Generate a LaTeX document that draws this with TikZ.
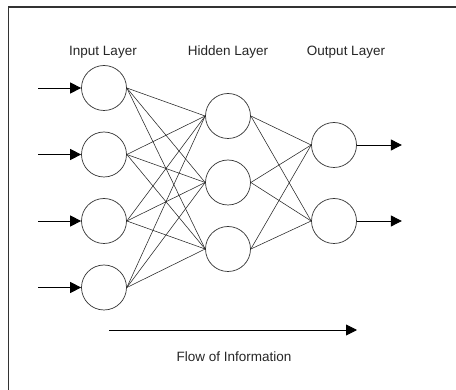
\documentclass[tikz,border=0pt]{standalone}
\usepackage{fontspec}
\setmainfont{Liberation Sans}
\usetikzlibrary{arrows.meta,calc}
\begin{document}
\begin{tikzpicture}[x=1pt,y=-1pt,
  neuron/.style={circle,draw=black!80,line width=0.7pt,minimum size=45pt,inner sep=0pt},
  link/.style={draw=black!85,line width=0.55pt},
  feed/.style={draw=black,line width=0.9pt,-{Triangle[length=11pt,width=11pt]}},
  lbl/.style={font=\fontsize{13.5pt}{15pt}\selectfont,text=black!85,inner sep=0pt}]
\useasboundingbox (0,0) rectangle (456,390);
\fill[white] (0,0) rectangle (456,390);
\draw[black!80,line width=1.5pt] (8.5,390) -- (8.5,7) -- (456,7);
% labels
\node[lbl] (tin) at (103,52) {Input Layer};
\node[lbl] (thid) at (228,52) {Hidden Layer};
\node[lbl] (tout) at (346,52) {Output Layer};
% neurons
\foreach \i/\y in {1/88,2/154.5,3/221,4/287.5} \node[neuron] (i\i) at (104,\y) {};
\foreach \i/\y in {1/116,2/182.5,3/249} \node[neuron] (h\i) at (228,\y) {};
\foreach \i/\y in {1/145,2/221} \node[neuron] (o\i) at (334,\y) {};
% links
\foreach \a in {1,...,4}\foreach \b in {1,2,3} \draw[link] (i\a.east) -- (h\b.west);
\foreach \a in {1,2,3}\foreach \b in {1,2} \draw[link] (h\a.east) -- (o\b.west);
% input arrows
\foreach \i in {1,...,4} {
  \coordinate (s\i) at ($(i\i.west)+(-43,0)$);
  \draw[feed] (s\i) -- (i\i.west);
}
% output arrows
\foreach \i in {1,2} {
  \coordinate (e\i) at ($(o\i.east)+(45,0)$);
  \draw[feed] (o\i.east) -- (e\i);
}
% flow of information
\coordinate (f1) at (109,330);
\coordinate (f2) at (357,330);
\draw[feed] (f1) -- (f2);
\node[lbl] (tflow) at (234,357) {Flow of Information};
\end{tikzpicture}
\end{document}
